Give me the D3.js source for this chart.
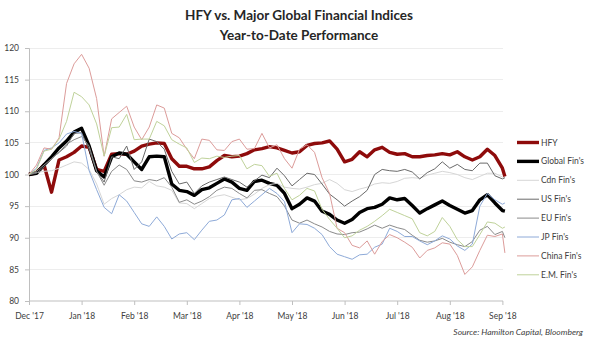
<!DOCTYPE html>
<html><head><meta charset="utf-8">
<script src="https://cdn.jsdelivr.net/npm/d3@7"></script>
<style>
body{margin:0;background:#fff;}
svg{display:block;}
text{font-family:Lato,"Liberation Sans",Arial,sans-serif;}
</style></head>
<body><svg id="c" width="592" height="345"></svg>
<script>
// trading-day index of each sample (x categories)
const days = d3.range(0, 190, 3).concat([190]);
const tickDays = [0,21,42,63,84,105,126,147,168,189];
const tickLabels = ["Dec '17","Jan '18","Feb '18","Mar '18","Apr '18","May '18","Jun '18","Jul '18","Aug '18","Sep '18"];
const yTicks = [80,85,90,95,100,105,110,115,120];

const hfy = [100,100.3,101.5,97.2,102.3,102.8,103.5,104.5,104.3,100.8,100.5,103.2,103.3,103.2,103.7,104.5,104.8,
105.0,104.9,102.5,101.3,101.3,100.9,100.9,101.2,102.2,103.0,102.8,102.9,103.3,103.9,104.1,104.4,
104.2,103.8,103.4,103.6,104.6,104.9,105.0,105.3,104.0,102.0,102.4,103.6,102.8,103.9,104.3,103.5,
103.2,103.3,102.8,102.8,103.0,103.1,103.3,103.1,103.6,102.8,102.3,102.8,104.0,103.0,101.0,99.7];
const globalFin = [100,100.2,101.5,102.8,104.2,105.3,106.7,107.3,104.5,100.6,99.6,102.8,103.4,103.2,102.0,100.8,102.8,
102.9,102.8,98.5,97.5,97.3,96.7,97.6,97.9,98.6,99.3,98.8,97.8,97.5,98.9,99.1,98.6,
98.3,97.0,94.6,95.3,96.3,95.8,94.2,93.7,92.8,92.3,92.9,94.0,94.6,94.8,95.3,96.3,
96.0,96.2,95.1,93.9,94.6,95.2,95.8,95.1,94.5,93.9,94.3,96.0,96.8,95.5,94.3,94.2];
const cdnFin = [100,100.3,100.5,100.6,101.0,101.5,102.0,101.8,100.8,98.5,95.3,96.2,96.8,97.6,98.0,97.9,98.9,
98.2,98.0,97.5,95.5,95.4,94.6,95.4,96.2,96.6,96.8,96.4,96.0,96.2,96.9,97.8,98.4,
98.6,98.0,97.8,97.7,98.0,98.4,98.6,99.2,98.6,97.6,97.3,97.7,98.0,98.5,98.7,98.6,
98.9,99.4,99.5,99.4,99.9,100.2,100.5,100.3,100.0,99.5,99.2,99.7,100.2,100.2,99.6,99.4];
const usFin = [100,100.2,101.2,102.5,103.5,104.5,106.5,106.6,104.0,100.5,98.8,102.8,102.5,104.5,100.8,102.0,105.6,
105.2,104.0,100.5,98.5,98.8,97.0,98.2,98.8,99.2,99.6,99.2,98.8,98.0,99.0,99.9,99.5,
101.0,99.8,98.2,99.2,100.2,100.0,98.5,96.9,96.0,95.0,95.8,96.5,97.5,100.0,100.8,100.6,
100.5,100.8,100.4,99.3,100.3,100.9,102.0,101.0,101.6,100.8,100.6,101.8,101.8,99.8,99.3,99.5];
const euFin = [100,100.5,101.5,102.5,103.5,104.8,105.5,106.0,104.5,100.5,98.3,100.5,101.5,100.8,99.0,98.8,99.2,
99.0,99.5,98.0,95.6,96.0,95.3,95.8,96.5,97.5,98.0,97.8,97.0,96.3,97.5,97.6,97.0,
96.5,95.0,92.8,92.3,92.8,92.2,91.7,91.0,90.6,90.5,90.8,90.9,91.4,92.0,91.5,92.0,
91.6,91.3,90.4,89.6,89.3,89.5,89.9,89.3,88.9,88.6,89.4,91.2,91.8,90.5,91.0,90.0];
const jpFin = [100,101.0,103.8,104.2,105.0,106.4,106.8,106.5,100.6,97.6,94.8,93.8,96.8,95.8,94.0,92.2,91.8,
93.3,91.8,89.8,90.6,90.8,89.7,91.2,92.6,92.8,93.6,96.0,96.2,94.8,95.8,96.8,97.8,
97.0,95.7,90.8,92.2,92.1,91.5,90.5,88.6,87.4,87.0,86.6,87.3,87.4,88.5,89.0,91.5,
91.0,90.2,90.2,89.5,88.9,89.5,90.3,89.8,88.7,88.0,89.0,95.0,97.0,96.0,95.3,95.5];
const chinaFin = [100,101.5,104.2,104.0,105.8,114.4,117.5,119.0,116.8,112.0,102.9,108.8,109.8,110.8,107.5,105.5,107.5,
111.0,110.5,106.5,105.8,104.0,102.5,105.6,105.4,103.9,103.8,105.2,105.6,104.0,104.1,106.5,104.2,
104.7,102.5,101.0,104.0,104.7,103.5,99.5,97.0,91.5,90.8,88.8,88.4,89.5,87.4,89.4,90.5,
90.0,89.3,88.5,86.8,88.0,88.4,89.2,89.0,87.2,84.2,85.4,88.0,90.4,90.2,90.6,87.6];
const emFin = [100,100.8,103.7,104.0,105.6,108.4,113.0,112.3,111.0,108.0,102.9,107.4,107.5,109.5,105.5,105.6,105.6,
108.4,107.7,105.5,104.8,104.2,101.9,102.6,102.5,102.9,102.7,102.9,103.0,100.9,101.6,101.4,99.7,
100.2,97.8,96.0,96.7,97.8,97.4,94.5,92.9,91.5,90.0,90.3,91.2,91.8,92.6,93.5,94.5,
94.0,93.5,93.0,90.8,90.3,91.0,93.2,91.8,89.7,88.6,88.6,90.5,92.5,92.3,91.5,91.7];

const seriesNames = ["HFY","Global Fin's","Cdn Fin's","US Fin's","EU Fin's","JP Fin's","China Fin's","E.M. Fin's"];
const seriesValues = [hfy, globalFin, cdnFin, usFin, euFin, jpFin, chinaFin, emFin];
const seriesColors = ["#8e0b0b","#000000","#d6d6d6","#6a6a6a","#8a8a8a","#8eaad8","#dc9c9a","#bfd29a"];
const seriesWidths = [3.4,3.4,1,1,1,1,1,1];

const svg = d3.select("#c");
const x = d3.scaleLinear().domain([0,189]).range([29,502.4]);
const y = d3.scaleLinear().domain([80,120]).range([301,48]);
const xRight = 503;

// gridlines
svg.append("g").selectAll("line").data(yTicks.filter(v=>v>80)).join("line")
  .attr("x1",29).attr("x2",xRight).attr("y1",d=>y(d)).attr("y2",d=>y(d))
  .attr("stroke","#ededed").attr("stroke-width",1).attr("shape-rendering","crispEdges");

// y axis
const yAxis = svg.append("g").attr("transform","translate(29,0)")
  .call(d3.axisLeft(y).tickValues(yTicks).tickSize(4).tickPadding(6));
yAxis.select(".domain").attr("stroke","#bfbfbf");
yAxis.selectAll(".tick line").attr("stroke","#bfbfbf");
yAxis.selectAll("text").attr("fill","#404040").style("font-size","8.5px").style("font-family","Lato,sans-serif");

// x axis
const xAxis = svg.append("g").attr("transform","translate(0,301)")
  .call(d3.axisBottom(x).tickValues(tickDays).tickFormat((d,i)=>tickLabels[i]).tickSize(4).tickPadding(8));
xAxis.select(".domain").attr("stroke","#bfbfbf").attr("d","M29,0H"+xRight);
xAxis.selectAll(".tick line").attr("stroke","#bfbfbf");
xAxis.selectAll("text").attr("fill","#404040").style("font-size","8.5px").style("font-family","Lato,sans-serif");

// lines
const line = d3.line().x((d,i)=>x(days[i])).y(d=>y(d));
seriesValues.forEach((vals,si)=>{
  svg.append("path").datum(vals).attr("d",line)
    .attr("fill","none").attr("stroke",seriesColors[si]).attr("stroke-width",seriesWidths[si])
    .attr("stroke-linejoin","round").attr("stroke-linecap","butt");
});

// title
svg.append("text").attr("x",299).attr("y",20).attr("text-anchor","middle")
  .style("font-weight","bold").style("font-size","13.5px").attr("fill","#262626")
  .text("HFY vs. Major Global Financial Indices");
svg.append("text").attr("x",299).attr("y",40).attr("text-anchor","middle")
  .style("font-weight","bold").style("font-size","13.5px").attr("fill","#262626")
  .text("Year-to-Date Performance");

// legend
const lg = svg.append("g");
seriesNames.forEach((n,i)=>{
  const ly = 142.5 + i*18.9;
  lg.append("line").attr("x1",517).attr("x2",539).attr("y1",ly).attr("y2",ly)
    .attr("stroke",seriesColors[i]).attr("stroke-width",seriesWidths[i]);
  lg.append("text").attr("x",541).attr("y",ly+3).attr("fill","#404040")
    .style("font-size","8.5px").text(n);
});

// source
svg.append("text").attr("x",583).attr("y",335).attr("text-anchor","end")
  .style("font-style","italic").style("font-size","8.5px").attr("fill","#404040")
  .text("Source: Hamilton Capital, Bloomberg");
</script></body></html>
